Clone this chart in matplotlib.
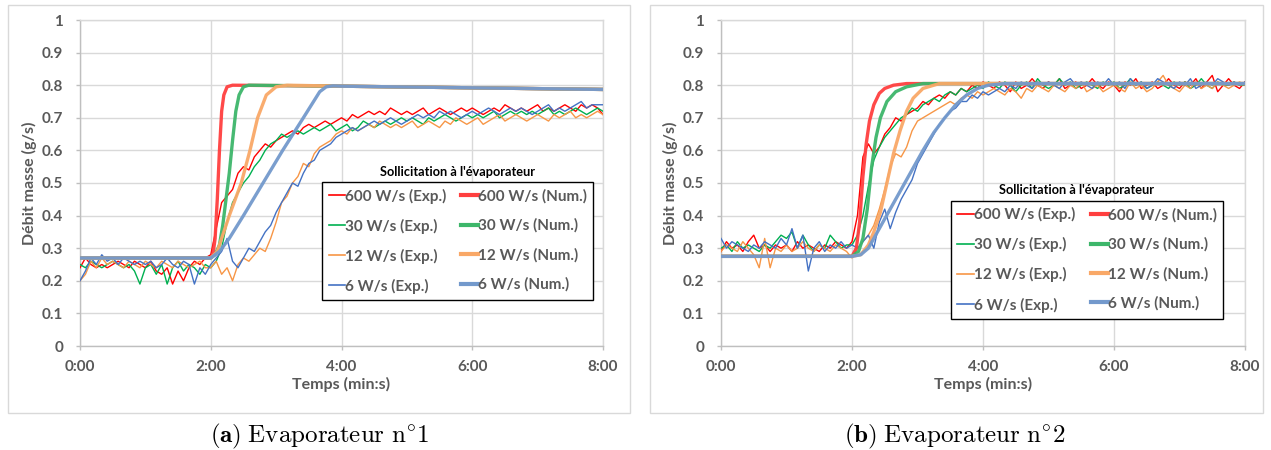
import matplotlib
matplotlib.use("Agg")
import matplotlib.pyplot as plt
from matplotlib.patches import Rectangle
from matplotlib.lines import Line2D

plt.rcParams['font.family'] = ['Lato', 'DejaVu Sans']

# ---------------- data ----------------
t_exp = list(range(0, 481, 5))   # seconds, experimental sampling
x_ticks = [0, 120, 240, 360, 480]
x_tick_labels = ["0:00", "2:00", "4:00", "6:00", "8:00"]
y_ticks = [0, 0.1, 0.2, 0.3, 0.4, 0.5, 0.6, 0.7, 0.8, 0.9, 1.0]
y_tick_labels = ["0", "0.1", "0.2", "0.3", "0.4", "0.5", "0.6", "0.7", "0.8", "0.9", "1"]
series_names = ["600 W/s", "30 W/s", "12 W/s", "6 W/s"]

# Evaporateur 1 - experimental
e1_600_exp = [0.24,0.27,0.25,0.24,0.25,0.24,0.25,0.26,0.25,0.24,0.26,0.25,
              0.24,0.26,0.23,0.22,0.24,0.19,0.23,0.20,0.24,0.26,0.25,0.27,
              0.28,0.36,0.44,0.46,0.48,0.53,0.55,0.54,0.58,0.60,0.62,0.61,
              0.63,0.64,0.65,0.66,0.65,0.67,0.68,0.67,0.68,0.69,0.68,0.69,
              0.70,0.69,0.71,0.70,0.71,0.72,0.71,0.72,0.71,0.73,0.72,0.71,
              0.72,0.71,0.72,0.73,0.71,0.72,0.73,0.72,0.71,0.72,0.73,0.72,
              0.73,0.72,0.71,0.72,0.73,0.72,0.74,0.73,0.72,0.73,0.72,0.73,
              0.74,0.72,0.73,0.72,0.73,0.74,0.73,0.72,0.74,0.73,0.74,0.73,
              0.71]
e1_30_exp = [0.25,0.24,0.26,0.25,0.24,0.25,0.26,0.25,0.24,0.25,0.23,0.19,
             0.24,0.25,0.22,0.25,0.19,0.24,0.26,0.23,0.25,0.24,0.22,0.25,
             0.24,0.26,0.30,0.38,0.44,0.47,0.50,0.52,0.55,0.57,0.60,0.62,
             0.63,0.65,0.64,0.65,0.66,0.65,0.66,0.67,0.66,0.67,0.68,0.66,
             0.67,0.68,0.66,0.67,0.69,0.68,0.67,0.68,0.69,0.68,0.69,0.70,
             0.69,0.70,0.69,0.68,0.70,0.69,0.70,0.71,0.70,0.69,0.70,0.71,
             0.70,0.71,0.70,0.71,0.72,0.70,0.71,0.72,0.71,0.72,0.71,0.72,
             0.71,0.72,0.73,0.71,0.72,0.71,0.72,0.73,0.72,0.71,0.72,0.73,
             0.72]
e1_12_exp = [0.20,0.22,0.26,0.24,0.27,0.25,0.26,0.25,0.24,0.26,0.25,0.24,
             0.26,0.25,0.24,0.26,0.25,0.24,0.26,0.25,0.24,0.25,0.26,0.24,
             0.24,0.26,0.22,0.24,0.20,0.25,0.27,0.26,0.28,0.30,0.29,0.33,
             0.38,0.44,0.46,0.50,0.52,0.56,0.55,0.59,0.61,0.62,0.63,0.65,
             0.66,0.65,0.67,0.66,0.67,0.68,0.67,0.69,0.68,0.67,0.68,0.67,
             0.68,0.69,0.67,0.68,0.69,0.68,0.67,0.69,0.68,0.70,0.69,0.68,
             0.69,0.70,0.68,0.69,0.70,0.71,0.69,0.70,0.71,0.70,0.69,0.70,
             0.71,0.70,0.69,0.71,0.70,0.71,0.72,0.70,0.71,0.70,0.71,0.72,
             0.71]
e1_6_exp = [0.20,0.23,0.27,0.25,0.28,0.26,0.27,0.25,0.27,0.26,0.25,0.26,
            0.25,0.26,0.24,0.25,0.27,0.25,0.24,0.26,0.25,0.19,0.24,0.22,
            0.25,0.27,0.29,0.33,0.26,0.24,0.27,0.30,0.29,0.32,0.35,0.37,
            0.41,0.44,0.47,0.50,0.49,0.53,0.56,0.57,0.60,0.61,0.62,0.64,
            0.65,0.66,0.67,0.66,0.67,0.68,0.69,0.68,0.69,0.70,0.69,0.68,
            0.69,0.70,0.71,0.70,0.71,0.70,0.72,0.71,0.72,0.71,0.70,0.71,
            0.72,0.71,0.72,0.73,0.72,0.71,0.72,0.73,0.72,0.73,0.72,0.71,
            0.72,0.73,0.74,0.72,0.73,0.72,0.73,0.74,0.75,0.73,0.74,0.74,
            0.74]

# Evaporateur 1 - numerical
e1_600_num_t = [0, 120, 122, 124, 126, 128, 130, 132, 135, 140, 240, 480]
e1_600_num = [0.27, 0.27, 0.28, 0.33, 0.45, 0.60, 0.72, 0.77, 0.795, 0.80, 0.797, 0.787]
e1_30_num_t = [0, 120, 124, 128, 131, 134, 137, 140, 143, 146, 150, 155, 240, 480]
e1_30_num = [0.27, 0.27, 0.28, 0.31, 0.37, 0.45, 0.53, 0.63, 0.72, 0.77, 0.795, 0.80, 0.797, 0.787]
e1_12_num_t = [0, 120, 126, 137, 148, 156, 163, 171, 180, 190, 240, 480]
e1_12_num = [0.27, 0.27, 0.29, 0.40, 0.50, 0.60, 0.70, 0.77, 0.795, 0.80, 0.797, 0.787]
e1_6_num_t = [0, 120, 128, 137, 150, 168, 186, 205, 220, 226, 232, 240, 480]
e1_6_num = [0.27, 0.27, 0.29, 0.33, 0.40, 0.50, 0.60, 0.70, 0.78, 0.795, 0.798, 0.797, 0.787]

# Evaporateur 2 - experimental
e2_600_exp = [0.29,0.32,0.30,0.31,0.29,0.32,0.34,0.30,0.31,0.29,0.31,0.30,
              0.31,0.29,0.32,0.30,0.31,0.30,0.29,0.31,0.30,0.32,0.31,0.30,
              0.32,0.40,0.58,0.62,0.59,0.61,0.65,0.67,0.70,0.69,0.71,0.72,
              0.73,0.75,0.74,0.76,0.77,0.76,0.78,0.77,0.79,0.78,0.80,0.79,
              0.81,0.80,0.79,0.81,0.80,0.78,0.81,0.79,0.80,0.82,0.80,0.79,
              0.81,0.80,0.82,0.79,0.80,0.81,0.79,0.80,0.82,0.80,0.79,0.81,
              0.80,0.78,0.81,0.80,0.82,0.79,0.80,0.81,0.79,0.80,0.82,0.80,
              0.79,0.81,0.80,0.82,0.79,0.81,0.83,0.78,0.80,0.82,0.80,0.79,
              0.81]
e2_30_exp = [0.30,0.31,0.29,0.32,0.30,0.31,0.30,0.29,0.31,0.30,0.32,0.34,
             0.33,0.35,0.30,0.34,0.31,0.29,0.31,0.30,0.34,0.32,0.30,0.31,
             0.31,0.34,0.40,0.49,0.57,0.61,0.64,0.66,0.68,0.70,0.71,0.73,
             0.72,0.74,0.75,0.76,0.75,0.77,0.78,0.77,0.79,0.78,0.79,0.80,
             0.79,0.81,0.80,0.79,0.81,0.80,0.78,0.80,0.81,0.79,0.82,0.80,
             0.79,0.80,0.82,0.80,0.81,0.79,0.80,0.81,0.80,0.79,0.81,0.80,
             0.81,0.79,0.80,0.82,0.80,0.81,0.79,0.80,0.81,0.80,0.79,0.81,
             0.80,0.81,0.79,0.80,0.82,0.80,0.79,0.81,0.80,0.80,0.81,0.80,
             0.80]
e2_12_exp = [0.29,0.31,0.30,0.29,0.32,0.30,0.28,0.24,0.33,0.24,0.30,0.29,
             0.31,0.29,0.30,0.32,0.30,0.29,0.31,0.30,0.29,0.31,0.30,0.29,
             0.27,0.30,0.32,0.34,0.37,0.42,0.48,0.55,0.59,0.58,0.61,0.66,
             0.69,0.70,0.71,0.72,0.73,0.74,0.75,0.74,0.76,0.77,0.76,0.78,
             0.77,0.78,0.79,0.78,0.77,0.79,0.78,0.76,0.79,0.78,0.80,0.79,
             0.78,0.80,0.79,0.78,0.80,0.79,0.81,0.78,0.79,0.80,0.78,0.79,
             0.80,0.79,0.78,0.81,0.79,0.80,0.78,0.79,0.81,0.83,0.80,0.79,
             0.78,0.80,0.79,0.81,0.79,0.80,0.79,0.81,0.80,0.79,0.80,0.81,
             0.80]
e2_6_exp = [0.33,0.30,0.32,0.31,0.30,0.29,0.31,0.30,0.32,0.31,0.30,0.33,
            0.31,0.36,0.30,0.34,0.23,0.30,0.32,0.29,0.31,0.30,0.32,0.30,
            0.31,0.30,0.32,0.34,0.30,0.38,0.42,0.36,0.41,0.45,0.48,0.51,
            0.56,0.59,0.62,0.65,0.68,0.70,0.72,0.73,0.75,0.75,0.77,0.76,
            0.78,0.77,0.78,0.79,0.78,0.80,0.79,0.81,0.80,0.79,0.81,0.80,
            0.81,0.80,0.79,0.81,0.82,0.80,0.81,0.80,0.79,0.81,0.80,0.82,
            0.80,0.81,0.79,0.82,0.80,0.81,0.79,0.80,0.82,0.81,0.80,0.79,
            0.81,0.80,0.82,0.79,0.80,0.81,0.80,0.82,0.81,0.80,0.81,0.80,
            0.81]

# Evaporateur 2 - numerical
e2_600_num_t = [0, 120, 124, 127, 130, 133, 136, 140, 145, 150, 158, 170, 480]
e2_600_num = [0.275, 0.275, 0.30, 0.38, 0.52, 0.62, 0.69, 0.74, 0.775, 0.79, 0.80, 0.805, 0.805]
e2_30_num_t = [0, 120, 126, 130, 134, 138, 142, 146, 152, 160, 170, 185, 480]
e2_30_num = [0.275, 0.275, 0.29, 0.33, 0.42, 0.55, 0.64, 0.70, 0.75, 0.78, 0.795, 0.805, 0.805]
e2_12_num_t = [0, 120, 128, 135, 140, 146, 152, 158, 164, 170, 176, 185, 200, 480]
e2_12_num = [0.275, 0.275, 0.28, 0.31, 0.35, 0.41, 0.50, 0.59, 0.66, 0.72, 0.76, 0.79, 0.805, 0.805]
e2_6_num_t = [0, 120, 128, 135, 145, 155, 165, 175, 185, 195, 205, 215, 225, 235, 245, 260, 480]
e2_6_num = [0.275, 0.275, 0.28, 0.30, 0.36, 0.42, 0.48, 0.54, 0.60, 0.655, 0.70, 0.74, 0.77, 0.79, 0.80, 0.805, 0.805]

# ---------------- styles ----------------
exp_colors = ["#FF0000", "#00B050", "#F79646", "#4472C4"]
num_colors = ["#FF3F3F", "#3DB66A", "#F9A867", "#7399CC"]
gray_txt = "#595959"
grid_c = "#D9D9D9"

W, H = 1271, 450
fig = plt.figure(figsize=(W / 100, H / 100), dpi=100)

def px_axes(x0, x1, y0, y1):
    return fig.add_axes([x0 / W, 1 - y1 / H, (x1 - x0) / W, (y1 - y0) / H])

def draw_panel(ax, exps, nums, leg_box, title_pos):
    for y, c in zip(exps, exp_colors):
        ax.plot(t_exp, y, color=c, lw=1.0, zorder=3)
    for (tt, y), c in zip(nums, num_colors):
        ax.plot(tt, y, color=c, lw=2.4, alpha=0.95, zorder=4,
                solid_capstyle='butt')
    ax.set_xlim(0, 480)
    ax.set_ylim(0, 1)
    ax.set_xticks(x_ticks)
    ax.set_xticklabels(x_tick_labels)
    ax.set_yticks(y_ticks)
    ax.set_yticklabels(y_tick_labels)
    ax.grid(True, color=grid_c, lw=1.0, zorder=0)
    ax.set_axisbelow(True)
    for s in ax.spines.values():
        s.set_color(grid_c)
        s.set_linewidth(1.0)
    ax.spines['left'].set_color("#BFBFBF")
    ax.spines['bottom'].set_color("#BFBFBF")
    ax.tick_params(axis='both', colors="#BFBFBF", length=3, width=1,
                   labelcolor=gray_txt, labelsize=11)
    ax.tick_params(axis='y', pad=9)
    ax.tick_params(axis='x', pad=7)
    for lab in ax.get_xticklabels() + ax.get_yticklabels():
        lab.set_fontweight('bold')
    ax.set_xlabel("Temps (min:s)", fontsize=11.5, fontweight='bold', color=gray_txt)
    ax.set_ylabel("Débit masse (g/s)", fontsize=11.5, fontweight='bold', color=gray_txt)
    ax.xaxis.set_label_coords(0.5, -0.095)
    ax.yaxis.set_label_coords(-0.082, 0.5)

    handles = []
    labels = []
    for n, c in zip(series_names, exp_colors):
        handles.append(Line2D([], [], color=c, lw=1.2))
        labels.append(n + " (Exp.)")
    for n, c in zip(series_names, num_colors):
        handles.append(Line2D([], [], color=c, lw=3.0))
        labels.append(n + " (Num.)")
    leg = ax.legend(handles, labels, ncol=2, loc='upper left',
                    bbox_to_anchor=leg_box, mode='expand',
                    frameon=True, fancybox=False, framealpha=1,
                    edgecolor='black', prop={'weight': 'bold', 'size': 11},
                    handlelength=1.1, handletextpad=0.0, labelspacing=0.98,
                    columnspacing=0.8, borderpad=0.42, borderaxespad=0)
    leg.get_frame().set_linewidth(1.0)
    for txt in leg.get_texts():
        txt.set_color(gray_txt)
    ax.text(title_pos[0], title_pos[1], "Sollicitation à l'évaporateur",
            transform=ax.transAxes, ha='center', va='center',
            fontsize=9.2, fontweight='bold', color='black')

# panel frames
for x0, x1 in [(8, 630), (650, 1263)]:
    fig.add_artist(Rectangle((x0 / W, 1 - 413 / H), (x1 - x0) / W, 408 / H,
                             transform=fig.transFigure, fill=False,
                             ec=grid_c, lw=1.0))

ax1 = px_axes(80, 603, 20, 346)
draw_panel(ax1,
           [e1_600_exp, e1_30_exp, e1_12_exp, e1_6_exp],
           [(e1_600_num_t, e1_600_num), (e1_30_num_t, e1_30_num),
            (e1_12_num_t, e1_12_num), (e1_6_num_t, e1_6_num)],
           (0.463, 0.503, 0.518, 0.0), (0.721, 0.534))

ax2 = px_axes(721, 1245, 20, 346)
draw_panel(ax2,
           [e2_600_exp, e2_30_exp, e2_12_exp, e2_6_exp],
           [(e2_600_num_t, e2_600_num), (e2_30_num_t, e2_30_num),
            (e2_12_num_t, e2_12_num), (e2_6_num_t, e2_6_num)],
           (0.439, 0.445, 0.519, 0.0), (0.679, 0.480))

# captions
fig.text(320 / W, 1 - 436 / H, r"$\mathbf{(a)}$ $\mathrm{Evaporateur\ n^{\circ}1}$",
         ha='center', va='center', fontsize=18, math_fontfamily='cm')
fig.text(955 / W, 1 - 436 / H, r"$\mathbf{(b)}$ $\mathrm{Evaporateur\ n^{\circ}2}$",
         ha='center', va='center', fontsize=18, math_fontfamily='cm')

fig.savefig("out.png", dpi=100)
